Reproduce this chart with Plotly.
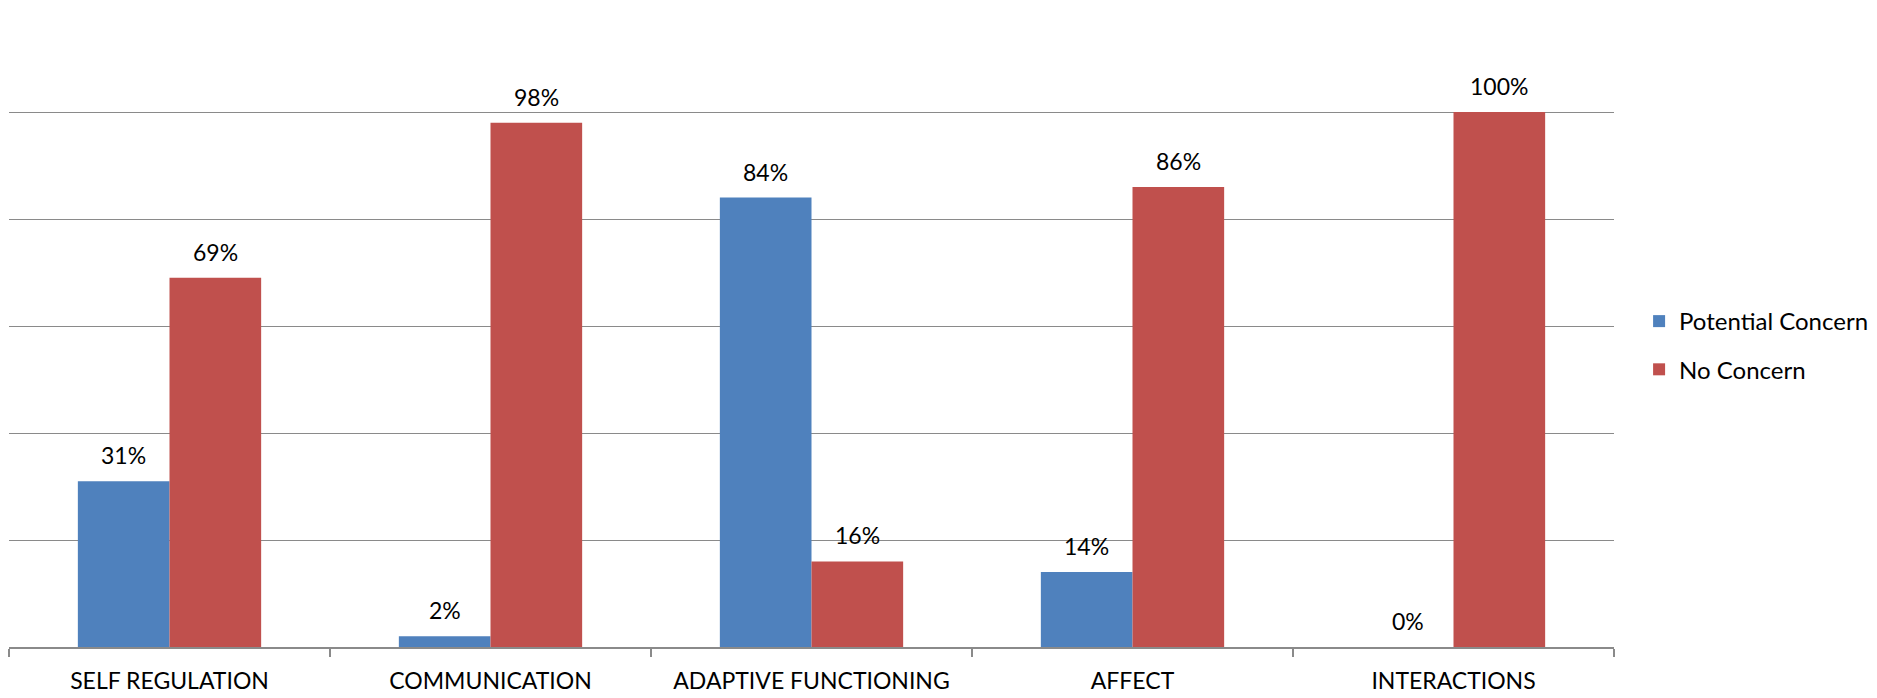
import plotly.graph_objects as go

categories = ["SELF REGULATION", "COMMUNICATION", "ADAPTIVE FUNCTIONING", "AFFECT", "INTERACTIONS"]
potential_concern = [31, 2, 84, 14, 0]
no_concern = [69, 98, 16, 86, 100]
series_names = ["Potential Concern", "No Concern"]

BLUE = "#4F81BD"
RED = "#C0504D"
GRID = "#8a8a8a"
FONT = "Lato"

W, H = 1877, 698
margin = dict(l=9, r=262, t=5, b=51)
bargap = 0.429

fig = go.Figure()
fig.add_trace(go.Bar(x=categories, y=potential_concern, name=series_names[0],
                     marker=dict(color=BLUE, line=dict(width=0)), legendgroup="a"))
fig.add_trace(go.Bar(x=categories, y=no_concern, name=series_names[1],
                     marker=dict(color=RED, line=dict(width=0)), legendgroup="b"))

# value labels centred over each bar of the group
plot_w = W - margin["l"] - margin["r"]
cat_w = plot_w / len(categories)
bar_w = cat_w * (1 - bargap) / 2
for values, shift in ((potential_concern, -bar_w / 2), (no_concern, bar_w / 2)):
    for cat, v in zip(categories, values):
        fig.add_annotation(x=cat, y=v, xref="x", yref="y", text=f"{v}%",
                           showarrow=False, xshift=shift, yshift=26,
                           yanchor="middle", xanchor="center",
                           font=dict(family=FONT, size=23, color="#000000"))

fig.update_layout(
    width=W, height=H,
    margin=margin,
    paper_bgcolor="white", plot_bgcolor="white",
    barmode="group", bargap=bargap, bargroupgap=0,
    font=dict(family=FONT, size=23, color="#000000"),
    showlegend=True,
    legend=dict(x=1.015, xanchor="left", y=0.4696, yanchor="middle",
                traceorder="grouped", tracegroupgap=14,
                font=dict(family=FONT, size=24, color="#000000"),
                bgcolor="rgba(0,0,0,0)"),
    xaxis=dict(showline=True, linecolor=GRID, linewidth=1.5,
               ticks="outside", tickson="boundaries", ticklen=8,
               tickcolor=GRID, tickwidth=1.5, showgrid=False,
               ticklabelstandoff=13,
               tickfont=dict(family=FONT, size=23, color="#000000")),
    yaxis=dict(range=[0, 120], dtick=20, showticklabels=False,
               showgrid=True, gridcolor=GRID, gridwidth=1.2,
               zeroline=False, showline=False, ticks=""),
)

fig.write_html("out.html")
